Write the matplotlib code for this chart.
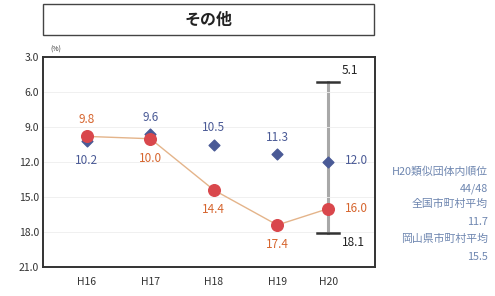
import matplotlib.pyplot as plt
from matplotlib.patches import Rectangle

plt.rcParams['font.family'] = ['Noto Sans CJK JP', 'DejaVu Sans']

years = ['H16', 'H17', 'H18', 'H19', 'H20']
xpos = [1, 2, 3, 4, 4.8]
pref_avg = [9.8, 10.0, 14.4, 17.4, 16.0]      # red circles with line
own_val = [10.2, 9.6, 10.5, 11.3, 12.0]        # blue diamonds
range_min, range_max = 5.1, 18.1
yticks = [3.0, 6.0, 9.0, 12.0, 15.0, 18.0, 21.0]
side_text = ['H20類似団体内順位', '44/48', '全国市町村平均', '11.7', '岡山県市町村平均', '15.5']

blue = '#4a5a96'
red = '#d9474c'
orange = '#d6652e'

fig = plt.figure(figsize=(4.95, 2.96), dpi=100)
ax = fig.add_axes([0.0869, 0.098, 0.6707, 0.709])

# title box
fig.patches.append(Rectangle((43/495, 1-35/296), 331/495, 31/296, transform=fig.transFigure,
                             fill=False, edgecolor='#444444', lw=1.0))
fig.text((43+374)/2/495, 1-20/296, 'その他', ha='center', va='center', fontsize=11.5,
         fontweight='bold', color='#222222')

# range bar at H20
ax.plot([xpos[4], xpos[4]], [range_min, range_max], color='#a8a8a8', lw=2.2, zorder=1)
ax.plot([xpos[4]-0.17, xpos[4]+0.17], [range_min]*2, color='#333333', lw=1.8, zorder=2)
ax.plot([xpos[4]-0.17, xpos[4]+0.17], [range_max]*2, color='#333333', lw=1.8, zorder=2)

ax.plot(xpos, pref_avg, color='#e4b48a', lw=1, zorder=2)
ax.scatter(xpos, own_val, marker='D', s=30, color=blue, zorder=3)
ax.scatter(xpos, pref_avg, marker='o', s=70, color=red, zorder=4)

fs = 8.5
for i in range(4):
    if own_val[i] > pref_avg[i]:
        ax.annotate(f'{own_val[i]:.1f}', (xpos[i], own_val[i]), xytext=(0, -14), textcoords='offset points',
                    ha='center', va='center', color=blue, fontsize=fs)
        ax.annotate(f'{pref_avg[i]:.1f}', (xpos[i], pref_avg[i]), xytext=(0, 12), textcoords='offset points',
                    ha='center', va='center', color=orange, fontsize=fs)
    else:
        ax.annotate(f'{own_val[i]:.1f}', (xpos[i], own_val[i]), xytext=(0, 12), textcoords='offset points',
                    ha='center', va='center', color=blue, fontsize=fs)
        ax.annotate(f'{pref_avg[i]:.1f}', (xpos[i], pref_avg[i]), xytext=(0, -14), textcoords='offset points',
                    ha='center', va='center', color=orange, fontsize=fs)
ax.annotate(f'{own_val[4]:.1f}', (xpos[4], own_val[4]), xytext=(12, 1), textcoords='offset points',
            ha='left', va='center', color=blue, fontsize=fs)
ax.annotate(f'{pref_avg[4]:.1f}', (xpos[4], pref_avg[4]), xytext=(12, 0), textcoords='offset points',
            ha='left', va='center', color=orange, fontsize=fs)
ax.annotate(f'{range_min:.1f}', (xpos[4], range_min), xytext=(10, 8), textcoords='offset points',
            ha='left', va='center', color='#222222', fontsize=fs)
ax.annotate(f'{range_max:.1f}', (xpos[4], range_max), xytext=(10, -7), textcoords='offset points',
            ha='left', va='center', color='#222222', fontsize=fs)

ax.set_xlim(0.307, 5.54)
ax.set_ylim(21, 3)
ax.set_yticks(yticks)
ax.set_yticklabels([f'{v:.1f}' for v in yticks], fontsize=7.5, color='#333333')
ax.set_xticks(xpos)
ax.set_xticklabels(years, fontsize=7.5, color='#333333')
ax.tick_params(length=0, pad=7)
ax.tick_params(axis='y', pad=3)
ax.grid(axis='y', color='#eeeeee', lw=0.6)
for s in ax.spines.values():
    s.set_linewidth(1.4)
    s.set_color('#333333')
fig.text(50/495, 1-50/296, '(%)', fontsize=5, color='#333333', va='center')

ys = [172, 189, 204, 222, 239, 257]
for t, y in zip(side_text, ys):
    fig.text(488/495, 1-y/296, t, ha='right', va='center', fontsize=7.8, style='italic', color='#6e86b0')

fig.savefig('out.png', dpi=100)
